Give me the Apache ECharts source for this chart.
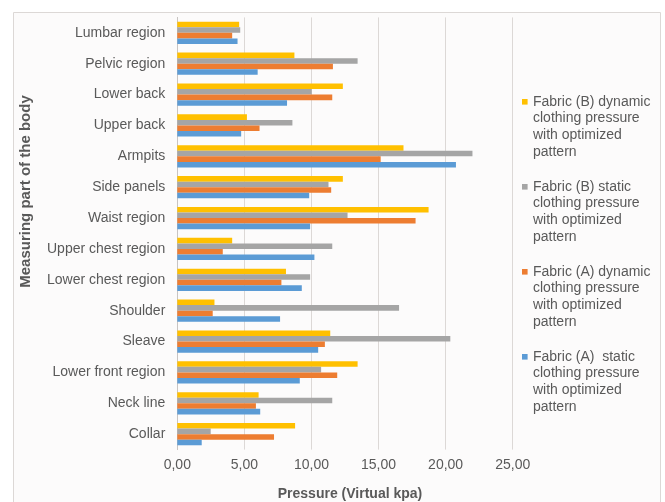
<!DOCTYPE html>
<html>
<head>
<meta charset="utf-8">
<script src="https://cdn.jsdelivr.net/npm/echarts@6/dist/echarts.min.js"></script>
<style>
  html, body { margin: 0; padding: 0; background: #ffffff; }
  #chart { width: 665px; height: 502px; }
</style>
</head>
<body>
<div id="chart"></div>
<script>
// Body regions, listed top to bottom as they appear on the chart
const regions = [
  'Lumbar region', 'Pelvic region', 'Lower back', 'Upper back', 'Armpits',
  'Side panels', 'Waist region', 'Upper chest region', 'Lower chest region',
  'Shoulder', 'Sleave', 'Lower front region', 'Neck line', 'Collar'
];

// Clothing pressure (virtual kPa) per region
const fabricBDynamic = [4.61, 8.73, 12.34, 5.19, 16.86, 12.34, 18.73, 4.09, 8.10, 2.77, 11.40, 13.44, 6.06, 8.78];
const fabricBStatic  = [4.69, 13.44, 10.02, 8.58, 22.00, 11.27, 12.69, 11.55, 9.90, 16.53, 20.35, 10.72, 11.55, 2.49];
const fabricADynamic = [4.09, 11.60, 11.55, 6.13, 15.16, 11.47, 17.76, 3.39, 7.76, 2.64, 11.00, 11.92, 5.86, 7.21];
const fabricAStatic  = [4.49, 5.99, 8.18, 4.76, 20.77, 9.83, 9.90, 10.22, 9.28, 7.66, 10.50, 9.13, 6.18, 1.82];

const seriesNames = [
  'Fabric (B) dynamic clothing pressure with optimized pattern',
  'Fabric (B) static clothing pressure with optimized pattern',
  'Fabric (A) dynamic clothing pressure with optimized pattern',
  'Fabric (A)  static clothing pressure with optimized pattern'
];
const legendLines = {
  [seriesNames[0]]: 'Fabric (B) dynamic\nclothing pressure\nwith optimized\npattern',
  [seriesNames[1]]: 'Fabric (B) static\nclothing pressure\nwith optimized\npattern',
  [seriesNames[2]]: 'Fabric (A) dynamic\nclothing pressure\nwith optimized\npattern',
  [seriesNames[3]]: 'Fabric (A)  static\nclothing pressure\nwith optimized\npattern'
};
const colors = ['#FFC000', '#A5A5A5', '#ED7D31', '#5B9BD5'];
const valueTicks = { min: 0, max: 25, interval: 5 };

const FONT = '"Liberation Sans", Arial, sans-serif';
const TEXT = '#595959';

const chart = echarts.init(document.getElementById('chart'), null, { renderer: 'canvas' });

const seriesValues = [fabricBDynamic, fabricBStatic, fabricADynamic, fabricAStatic];

chart.setOption({
  animation: false,
  backgroundColor: '#ffffff',
  color: colors,
  graphic: [
    {
      type: 'rect',
      z: -10,
      shape: { x: 13.5, y: 12.5, width: 647, height: 500 },
      style: { fill: '#fcfbfb', stroke: '#dcd8d6', lineWidth: 1 }
    },
    {
      type: 'text',
      x: 26,
      y: 191.5,
      rotation: Math.PI / 2,
      style: {
        text: 'Measuring part of the body',
        font: 'bold 15px ' + FONT,
        fill: TEXT,
        align: 'center',
        verticalAlign: 'middle'
      }
    }
  ],
  grid: {
    left: 177.3, right: 152.3, top: 17.4, bottom: 52.4,
    containLabel: false,
    outerBoundsMode: 'none'
  },
  legend: {
    orient: 'vertical',
    left: 522,
    top: 93.4,
    padding: 0,
    itemGap: 18.3,
    itemWidth: 6,
    itemHeight: 66.7,
    icon: 'path://M0,0M0,5.6L5.6,5.6L5.6,11.2L0,11.2ZM6,66.7',
    data: seriesNames,
    formatter: (name) => legendLines[name],
    textStyle: { color: TEXT, fontSize: 14, fontFamily: FONT, lineHeight: 16.67 }
  },
  xAxis: {
    type: 'value',
    min: valueTicks.min,
    max: valueTicks.max,
    interval: valueTicks.interval,
    name: 'Pressure (Virtual kpa)',
    nameLocation: 'middle',
    nameGap: 38,
    nameTextStyle: { color: TEXT, fontSize: 14, fontWeight: 'bold', fontFamily: FONT, padding: [0, 0, 0, 10] },
    axisLine: { show: false },
    axisTick: { show: false },
    axisLabel: {
      color: TEXT, fontSize: 14, fontFamily: FONT, margin: 9,
      formatter: (v) => v.toFixed(2).replace('.', ',')
    },
    splitLine: { show: true, lineStyle: { color: '#dcd8d6', width: 1 } }
  },
  yAxis: {
    type: 'category',
    data: regions,
    inverse: true,
    axisLine: { show: true, lineStyle: { color: '#c8c4c2', width: 1 } },
    axisTick: { show: false },
    axisLabel: { color: TEXT, fontSize: 14, fontFamily: FONT, margin: 12 },
    splitLine: { show: false }
  },
  series: seriesNames.map((name, i) => ({
    name,
    type: 'bar',
    data: seriesValues[i],
    barGap: '0%',
    barCategoryGap: '28%',
    itemStyle: { color: colors[i] }
  }))
});
</script>
</body>
</html>
